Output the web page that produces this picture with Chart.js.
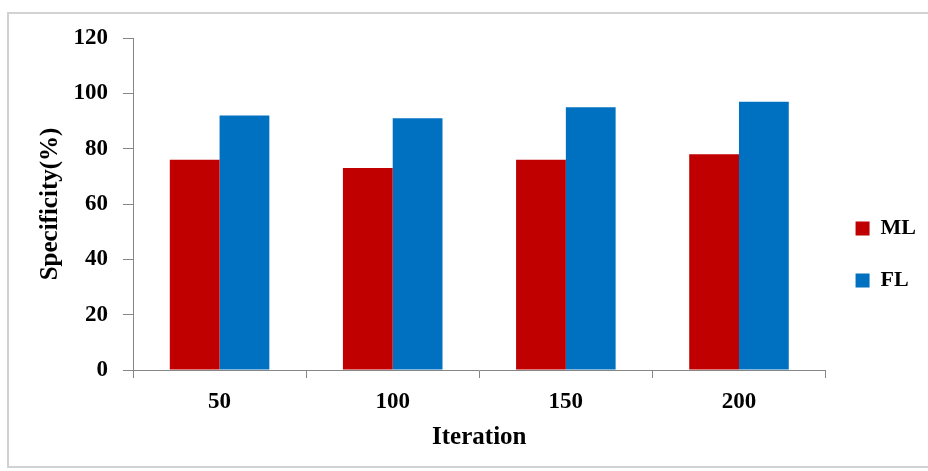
<!DOCTYPE html>
<html>
<head>
<meta charset="utf-8">
<script src="https://cdn.jsdelivr.net/npm/chart.js@4/dist/chart.umd.min.js"></script>
<style>
  html, body { margin: 0; padding: 0; background: #ffffff; }
  #wrap { width: 928px; height: 471px; position: relative; }
</style>
</head>
<body>
<div id="wrap"><canvas id="chart" width="928" height="471"></canvas></div>
<script>
// Specificity (%) per iteration count for the two learning approaches
const iterations = ['50', '100', '150', '200'];
const mlValues = [76, 73, 76, 78];
const flValues = [92, 91, 95, 97];
const yTicks = [0, 20, 40, 60, 80, 100, 120];

const serif = '"Liberation Serif", "Times New Roman", serif';

// Light outer frame around the whole figure
const framePlugin = {
  id: 'frame',
  beforeDraw(chart) {
    const ctx = chart.ctx;
    ctx.save();
    ctx.fillStyle = '#ffffff';
    ctx.fillRect(0, 0, chart.width, chart.height);
    ctx.strokeStyle = '#d2d2d2';
    ctx.lineWidth = 2;
    ctx.strokeRect(8, 13, chart.width + 20, 454);
    ctx.restore();
  }
};

new Chart(document.getElementById('chart'), {
  type: 'bar',
  data: {
    labels: iterations,
    datasets: [
      { label: 'ML', data: mlValues, backgroundColor: '#C00000', borderWidth: 0 },
      { label: 'FL', data: flValues, backgroundColor: '#0070C0', borderWidth: 0 }
    ]
  },
  options: {
    responsive: false,
    animation: false,
    devicePixelRatio: 1,
    layout: { padding: { top: 38, right: 2, bottom: 0, left: 0 } },
    datasets: { bar: { categoryPercentage: 0.575, barPercentage: 1.0 } },
    plugins: {
      tooltip: { enabled: false },
      legend: {
        position: 'right',
        labels: {
          boxWidth: 14,
          boxHeight: 14,
          padding: 30,
          color: '#000000',
          font: { family: serif, size: 22, weight: 'bold' }
        }
      }
    },
    scales: {
      x: {
        grid: {
          display: true,
          drawOnChartArea: false,
          drawTicks: true,
          tickLength: 8,
          color: '#868686'
        },
        border: { display: true, color: '#868686', width: 1 },
        ticks: {
          color: '#000000',
          padding: 10,
          font: { family: serif, size: 23, weight: 'bold' }
        },
        title: {
          display: true,
          text: 'Iteration',
          color: '#000000',
          padding: { top: 0, bottom: 18 },
          font: { family: serif, size: 25, weight: 'bold' }
        },
        afterFit(scale) { scale.height = 101; }
      },
      y: {
        min: 0,
        max: 120,
        afterBuildTicks(scale) { scale.ticks = yTicks.map(v => ({ value: v })); },
        grid: {
          display: true,
          drawOnChartArea: false,
          drawTicks: true,
          tickLength: 10,
          color: '#868686'
        },
        border: { display: true, color: '#868686', width: 1 },
        ticks: {
          color: '#000000',
          padding: 15,
          font: { family: serif, size: 23, weight: 'bold' }
        },
        title: {
          display: true,
          text: 'Specificity(%)',
          color: '#000000',
          padding: { top: 36, bottom: 0 },
          font: { family: serif, size: 25, weight: 'bold' }
        },
        afterFit(scale) { scale.width = 133; }
      }
    }
  },
  plugins: [framePlugin]
});
</script>
</body>
</html>
